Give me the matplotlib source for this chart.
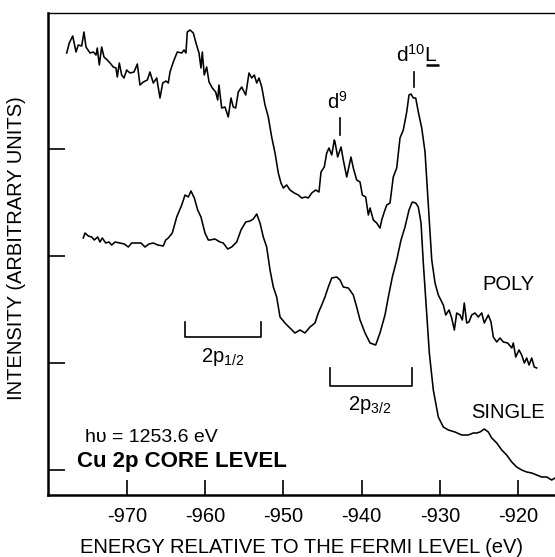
import matplotlib
matplotlib.use("Agg")
import matplotlib.pyplot as plt

plt.rcParams['font.family'] = ['Liberation Sans', 'DejaVu Sans']
plt.rcParams['mathtext.fontset'] = 'custom'
plt.rcParams['mathtext.rm'] = 'Liberation Sans'
plt.rcParams['mathtext.default'] = 'regular'

# ---- data (energy in eV, intensity in arbitrary units) ----
poly_energy = [-977.71, -977.38, -976.94, -976.52, -976.23, -975.79, -975.50, -975.24, -974.73, -974.31,
               -973.96, -973.80, -973.54, -973.24, -972.94, -972.52, -972.17, -971.75, -971.41, -971.24,
               -970.98, -970.68, -970.38, -970.04, -969.62, -969.10, -968.68, -968.34, -967.92, -967.40,
               -967.06, -966.64, -966.20, -965.78, -965.43, -965.01, -964.72, -964.50, -964.08, -963.57,
               -963.00, -962.71, -962.46, -962.29, -961.94, -961.52, -961.18, -960.79, -960.54, -960.37,
               -960.12, -959.81, -959.51, -959.09, -958.66, -958.40, -958.24, -957.89, -957.47, -957.05,
               -956.70, -956.41, -956.10, -955.77, -955.33, -954.82, -954.40, -954.05, -953.72, -953.41,
               -953.12, -952.77, -952.35, -951.93, -951.50, -951.07, -950.65, -950.31, -950.01, -949.58,
               -949.16, -948.61, -948.09, -947.66, -947.15, -946.82, -946.38, -945.87, -945.45, -945.19,
               -944.77, -944.46, -944.17, -943.82, -943.49, -943.40, -943.06, -942.63, -942.34, -941.90,
               -941.36, -941.06, -940.63, -940.20, -939.91, -939.48, -939.14, -938.92, -938.50, -938.07,
               -937.65, -937.43, -937.10, -936.79, -936.37, -935.95, -935.51, -935.09, -934.67, -934.23,
               -933.94, -933.68, -933.39, -933.08, -932.75, -932.31, -931.89, -931.25, -931.03, -930.61,
               -930.19, -929.55, -929.24, -928.82, -928.48, -928.14, -927.84, -927.42, -927.12, -926.87,
               -926.56, -926.27, -925.92, -925.50, -925.08, -924.64, -924.31, -923.80, -923.45, -923.16,
               -922.72, -922.30, -921.88, -921.32, -920.80, -920.60, -920.29, -919.87, -919.53, -919.19,
               -918.89, -918.59, -918.25, -917.92, -917.61]
poly_intensity = [442, 452, 459, 443, 450, 449, 463, 448, 442, 443,
                  440, 447, 430, 448, 438, 435, 432, 428, 427, 418,
                  432, 420, 417, 425, 422, 423, 431, 410, 413, 415,
                  423, 412, 417, 397, 412, 414, 412, 423, 433, 443,
                  442, 445, 442, 463, 465, 462, 452, 442, 427, 443,
                  420, 428, 413, 407, 403, 395, 410, 387, 388, 378,
                  397, 388, 387, 403, 408, 400, 422, 417, 420, 412,
                  417, 408, 390, 378, 358, 342, 322, 312, 307, 310,
                  305, 302, 300, 297, 298, 297, 302, 305, 303, 323,
                  328, 342, 347, 340, 355, 353, 338, 348, 335, 318,
                  338, 327, 315, 313, 300, 298, 280, 287, 275, 272,
                  267, 275, 283, 290, 292, 318, 327, 357, 365, 383,
                  400, 401, 397, 397, 383, 367, 343, 262, 235, 212,
                  200, 190, 180, 185, 177, 165, 182, 180, 175, 192,
                  172, 173, 180, 182, 178, 182, 172, 180, 173, 158,
                  153, 157, 153, 152, 147, 152, 138, 145, 140, 132,
                  137, 130, 137, 128, 127]

single_energy = [-975.59, -975.37, -974.95, -974.51, -974.18, -973.75, -973.45, -973.16, -972.72, -972.30,
                 -971.96, -971.53, -970.90, -970.35, -969.83, -969.40, -968.76, -968.21, -967.70, -967.19,
                 -966.64, -966.07, -965.36, -965.05, -964.72, -964.21, -963.64, -963.00, -962.58, -962.16,
                 -961.82, -961.39, -960.96, -960.54, -960.03, -959.60, -959.39, -958.75, -958.11, -957.69,
                 -957.12, -956.61, -955.97, -955.42, -954.82, -954.27, -953.85, -953.41, -952.99, -952.57,
                 -952.14, -951.71, -951.29, -950.86, -950.43, -949.80, -949.16, -948.52, -947.88, -947.24,
                 -946.60, -945.96, -945.54, -945.10, -944.68, -944.26, -943.82, -943.18, -942.76, -942.34,
                 -941.70, -941.06, -940.63, -940.20, -939.56, -938.92, -938.20, -937.65, -937.01, -936.58,
                 -936.07, -935.51, -934.96, -934.45, -933.94, -933.52, -933.08, -932.75, -932.40, -932.11,
                 -931.68, -931.34, -930.83, -930.19, -929.55, -928.91, -928.06, -927.20, -926.36, -925.72,
                 -925.28, -924.86, -924.31, -923.80, -923.36, -922.72, -922.08, -921.45, -920.80, -920.17,
                 -919.53, -918.89, -918.25, -917.61, -916.97, -916.33, -915.69, -915.27]
single_intensity = [257, 262, 259, 258, 255, 258, 253, 257, 252, 253,
                    250, 253, 252, 251, 248, 252, 252, 252, 248, 251,
                    252, 250, 249, 255, 257, 262, 278, 290, 300, 298,
                    304, 297, 285, 278, 262, 255, 255, 256, 253, 252,
                    246, 248, 253, 265, 273, 274, 276, 281, 272, 258,
                    248, 225, 208, 198, 178, 172, 167, 162, 165, 162,
                    168, 172, 182, 190, 198, 208, 217, 218, 215, 208,
                    207, 200, 188, 175, 162, 152, 150, 162, 180, 198,
                    218, 235, 255, 268, 285, 293, 292, 288, 272, 232,
                    182, 142, 105, 78, 68, 65, 63, 60, 60, 62,
                    62, 63, 66, 63, 57, 52, 45, 40, 33, 28,
                    25, 23, 22, 20, 18, 18, 15, 17]

x_ticks = [-970, -960, -950, -940, -930, -920]
x_tick_labels = ['-970', '-960', '-950', '-940', '-930', '-920']
y_ticks = [25, 132, 239, 346]

bracket_12 = [-962.58, -952.86]
bracket_32 = [-944.04, -933.56]

# ---- figure ----
fig = plt.figure(figsize=(5.55, 5.57), dpi=100)
ax = fig.add_axes([48/555, 62/557, 507/555, 482/557])

lw = 1.15
ax.plot(poly_energy, poly_intensity, color='black', lw=lw, clip_on=False)
ax.plot(single_energy, single_intensity, color='black', lw=lw, clip_on=False)

ax.set_xlim(-980.1, -915.27)
ax.set_ylim(0, 482)

ax.spines['right'].set_visible(False)
ax.spines['left'].set_linewidth(1.8)
ax.spines['bottom'].set_linewidth(1.8)
ax.spines['top'].set_linewidth(1.0)

ax.set_xticks(x_ticks)
ax.set_xticklabels(x_tick_labels)
ax.set_yticks(y_ticks)
ax.set_yticklabels([])
ax.tick_params(axis='x', direction='in', length=11, width=1.2, pad=9, labelsize=14.5)
ax.tick_params(axis='y', direction='in', length=12, width=1.2)

# peak markers
ax.plot([-942.76, -942.76], [360, 377], color='black', lw=1.2)
ax.text(-943.15, 393, 'd$^{9}$', ha='center', va='center', fontsize=14.5)
ax.plot([-933.30, -933.30], [408, 423], color='black', lw=1.2)
t10 = ax.text(-932.9, 440, 'd$^{10}$L', ha='center', va='center', fontsize=15)

# brackets
ax.plot([bracket_12[0], bracket_12[0], bracket_12[1], bracket_12[1]], [173, 158, 158, 173], color='black', lw=1.2)
ax.text(sum(bracket_12)/2, 138, '2p$_{1/2}$', ha='center', va='center', fontsize=14.5)
ax.plot([bracket_32[0], bracket_32[0], bracket_32[1], bracket_32[1]], [127, 109, 109, 127], color='black', lw=1.2)
ax.text(-938.9, 90, '2p$_{3/2}$', ha='center', va='center', fontsize=14.5)

ax.text(-921.28, 211, 'POLY', ha='center', va='center', fontsize=14.5)
ax.text(-921.28, 82, 'SINGLE', ha='center', va='center', fontsize=14.5)
ax.text(-975.37, 58, 'hυ = 1253.6 eV', ha='left', va='center', fontsize=14)
ax.text(-976.39, 34, 'Cu 2p CORE LEVEL', ha='left', va='center', fontsize=16, fontweight='bold')

fig.text(302/555, 4/557, 'ENERGY RELATIVE TO THE FERMI LEVEL (eV)', ha='center', va='baseline', fontsize=14.5)
fig.text(17/555, 1 - 248/557, 'INTENSITY (ARBITRARY UNITS)', ha='center', va='center', rotation=90, fontsize=14.5)

# underline the "L" of the d10L label (ligand hole)
fig.canvas.draw()
bb = t10.get_window_extent(renderer=fig.canvas.get_renderer())
L_width = 0.556 * 15 * 100 / 72
inv = ax.transData.inverted()
(x0, y0) = inv.transform((bb.x1 - L_width, bb.y0 + 1))
(x1, _) = inv.transform((bb.x1 + 1, bb.y0 + 1))
ax.plot([x0, x1], [y0, y0], color='black', lw=1.8, solid_capstyle='butt')

fig.savefig('out.png', dpi=100)
